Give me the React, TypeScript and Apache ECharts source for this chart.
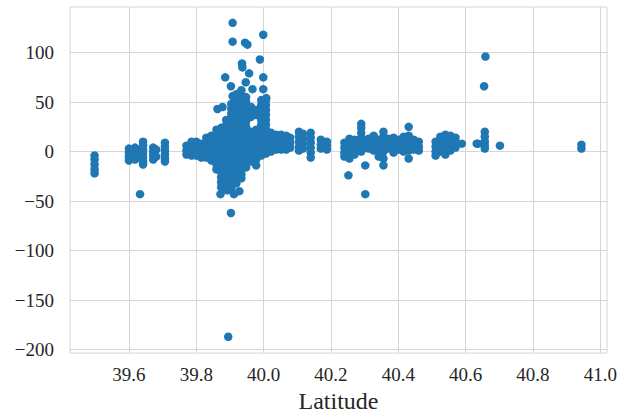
import React, { useEffect, useRef } from "react";
import * as echarts from "echarts";

// [latitude, values at that latitude]
const farWest: [number, number[]][] = [
  [39.498, [-4, -8, -13, -18, -22]],
];

const westClusters: [number, number[]][] = [
  [39.6, [3, -1, -5, -9]],
  [39.618, [4, 0, -4, -8]],
  [39.633, [2, -4, -43]],
  [39.642, [10, 6, 2, -2, -6, -10, -13]],
  [39.672, [4, 0, -4, -8]],
  [39.681, [2, -5]],
  [39.707, [9, 5, 1, -3, -7, -10]],
];

const coreColumns: [number, number[]][] = [
  [39.771, [6, 1, -3]],
  [39.786, [10, 5, 0, -4]],
  [39.8, [10, 5, 0, -4]],
  [39.815, [8, 3, -2, -6]],
  [39.83, [14, 9, 4, -1, -6]],
  [39.845, [16, 11, 6, 1, -4, -9]],
  [39.86, [22, 17, 12, 7, 2, -3, -8, -13, -18]],
  [39.874, [24, 19, 14, 9, 4, -1, -6, -11, -16, -21, -26, -31, -36]],
  [39.889, [32, 27, 22, 17, 12, 7, 2, -3, -8, -13, -18, -23, -28, -33, -38]],
  [39.904, [48, 43, 38, 33, 28, 23, 18, 13, 8, 3, -2, -7, -12, -17, -22, -27, -32, -37]],
  [39.919, [58, 53, 48, 43, 38, 33, 28, 23, 18, 13, 8, 3, -2, -7, -12, -17, -22, -27, -32]],
  [39.934, [62, 57, 52, 47, 42, 37, 32, 27, 22, 17, 12, 7, 2, -3, -8, -13, -18, -23, -27]],
  [39.948, [55, 50, 45, 40, 35, 30, 25, 20, 15, 10, 5, 0, -5, -10, -16]],
  [39.963, [45, 40, 35, 20, 15, 10, 5, 0, -5, -10]],
  [39.978, [42, 37, 22, 17, 12, 7, 2, -3, -8, -14]],
  [39.993, [52, 47, 42, 37, 32, 27, 22, 17, 12, 7, 2, -4]],
  [40.007, [52, 47, 42, 37, 32, 27, 22, 17, 12, 7, 2, -2]],
  [40.022, [19, 14, 9, 4, 0]],
  [40.037, [17, 12, 7, 2]],
  [40.052, [17, 12, 7, 2]],
  [40.067, [16, 11, 6, 2]],
  [40.079, [14, 9, 4]],
];

const coreOutliers: [number, number][] = [
  [39.908, 130], [39.908, 111], [39.945, 110], [39.952, 108], [39.999, 118],
  [39.936, 89], [39.937, 85], [39.989, 93], [39.886, 75], [39.957, 79],
  [39.903, 66], [39.947, 70], [39.967, 63], [39.999, 75], [39.999, 63],
  [39.908, 56], [40.008, 54], [39.863, 43], [39.878, 45],
  [39.872, -43], [39.892, -39], [39.912, -43], [39.928, -40],
  [39.903, -62], [39.895, -187],
];

const eastOfCore: [number, number[]][] = [
  [40.105, [20, 15, 10, 5, 1]],
  [40.117, [18, 13, 8, 3]],
  [40.14, [19, 14, 9, 4, -1, -6]],
  [40.17, [12, 7, 3]],
  [40.188, [10, 6, 2]],
];

const midClusters: [number, number[]][] = [
  [40.24, [9, 4, -1, -5]],
  [40.252, [-24]],
  [40.255, [13, 8, 3, -2, -7]],
  [40.27, [12, 7, 2, -3]],
  [40.29, [28, 24, 19, 14, 9, 4, 0]],
  [40.302, [-14, -43]],
  [40.312, [13, 8, 3]],
  [40.327, [16, 11, 6, 1]],
  [40.342, [12, 7, 2, -5]],
  [40.356, [20, 15, 10, 5, 0, -7, -14]],
  [40.371, [13, 8, 3]],
  [40.386, [14, 9, 4, -1]],
  [40.401, [12, 7, 2]],
  [40.416, [15, 10, 5, 0]],
  [40.431, [25, 16, 11, 6, 1, -7]],
  [40.446, [12, 7, 2]],
  [40.461, [10, 5, 1]],
];

const eastClusters: [number, number[]][] = [
  [40.511, [10, 5, 0, -4]],
  [40.525, [15, 10, 5, 0]],
  [40.54, [17, 12, 7, 2, -3]],
  [40.555, [16, 11, 6, 1]],
  [40.57, [14, 9, 4]],
  [40.589, [8]],
  [40.633, [8]],
  [40.637, [8]],
  [40.655, [66]],
  [40.657, [20, 15, 10, 6, 3]],
  [40.659, [96]],
  [40.702, [6]],
  [40.944, [7, 3]],
];

const xTicks = [39.6, 39.8, 40.0, 40.2, 40.4, 40.6, 40.8, 41.0];
const yTicks = [-200, -150, -100, -50, 0, 50, 100];

function flatten(cols: [number, number[]][]): [number, number][] {
  const out: [number, number][] = [];
  cols.forEach(([lat, vals]) => vals.forEach((v) => out.push([lat, v])));
  return out;
}

export default function App() {
  const ref = useRef<HTMLDivElement>(null);
  useEffect(() => {
    document.body.style.margin = "0";
    if (!ref.current) return;
    const chart = echarts.init(ref.current, undefined, { renderer: "svg" });
    const data = [
      ...flatten(farWest),
      ...flatten(westClusters),
      ...flatten(coreColumns),
      ...coreOutliers,
      ...flatten(eastOfCore),
      ...flatten(midClusters),
      ...flatten(eastClusters),
    ];
    const font = "'Liberation Serif', 'Times New Roman', serif";
    const gridColor = "#d5d5d5";
    chart.setOption({
      animation: false,
      grid: {
        left: 70,
        right: 20,
        top: 7,
        bottom: 59,
        show: true,
        borderColor: gridColor,
        borderWidth: 1,
        backgroundColor: "#fff",
      },
      xAxis: {
        type: "value",
        min: 39.425,
        max: 41.02,
        name: "Latitude",
        nameLocation: "middle",
        nameGap: 33,
        nameTextStyle: { fontFamily: font, fontSize: 24, color: "#262626" },
        axisLine: { show: false },
        axisTick: { show: false, customValues: xTicks },
        axisLabel: {
          customValues: xTicks,
          formatter: (v: number) => v.toFixed(1),
          fontFamily: font,
          fontSize: 19,
          color: "#262626",
          margin: 12,
        },
        splitLine: { show: true, lineStyle: { color: gridColor, width: 1 } },
      },
      yAxis: {
        type: "value",
        min: -203.5,
        max: 146,
        axisLine: { show: false },
        axisTick: { show: false, customValues: yTicks },
        axisLabel: {
          customValues: yTicks,
          formatter: (v: number) => String(v).replace("-", "\u2212"),
          fontFamily: font,
          fontSize: 19,
          color: "#262626",
          margin: 16,
        },
        splitLine: { show: true, lineStyle: { color: gridColor, width: 1 } },
      },
      series: [
        {
          type: "scatter",
          data,
          symbolSize: 8.5,
          itemStyle: { color: "#1f77b4", opacity: 1 },
        },
      ],
    });
    return () => chart.dispose();
  }, []);
  return <div ref={ref} style={{ width: 627, height: 418 }} />;
}
